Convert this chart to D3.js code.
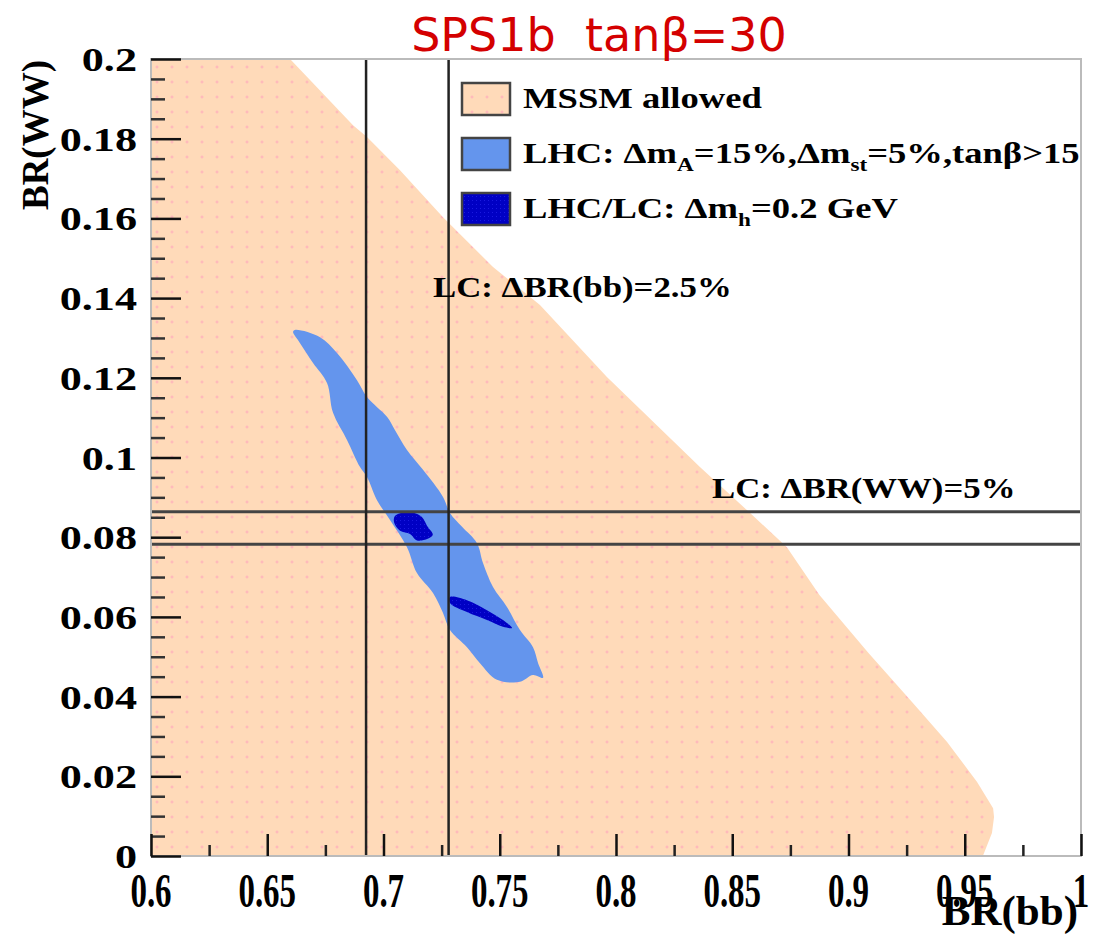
<!DOCTYPE html>
<html>
<head>
<meta charset="utf-8">
<script src="https://cdn.jsdelivr.net/npm/d3@7"></script>
<style>
  body { margin: 0; background: #fff; }
  text { font-family: "Liberation Serif", "DejaVu Serif", serif; font-weight: bold; }
</style>
</head>
<body>
<svg width="1104" height="936"></svg>
<script>
// axis ticks
var xMajor = [0.6, 0.65, 0.7, 0.75, 0.8, 0.85, 0.9, 0.95, 1.0];
var xMajorLabels = ["0.6", "0.65", "0.7", "0.75", "0.8", "0.85", "0.9", "0.95", "1"];
var xMinor = [0.625, 0.675, 0.725, 0.775, 0.825, 0.875, 0.925, 0.975];
var yMajor = [0, 0.02, 0.04, 0.06, 0.08, 0.1, 0.12, 0.14, 0.16, 0.18, 0.2];
var yMajorLabels = ["0", "0.02", "0.04", "0.06", "0.08", "0.1", "0.12", "0.14", "0.16", "0.18", "0.2"];
var yMinor = [0.005, 0.01, 0.015, 0.025, 0.03, 0.035, 0.045, 0.05, 0.055, 0.065, 0.07, 0.075,
              0.085, 0.09, 0.095, 0.105, 0.11, 0.115, 0.125, 0.13, 0.135, 0.145, 0.15, 0.155,
              0.165, 0.17, 0.175, 0.185, 0.19, 0.195];

// MSSM allowed region outline  [BR(bb), BR(WW)]
var mssmRegion = [
  [0.6, 0], [0.6, 0.2], [0.6598, 0.2], [0.6684, 0.1947], [0.6869, 0.1834], [0.6929, 0.1804],
  [0.7071, 0.1721], [0.7256, 0.1603], [0.7471, 0.1478], [0.7673, 0.1383], [0.7961, 0.1202],
  [0.8361, 0.0976], [0.8563, 0.0868], [0.8735, 0.0775], [0.8875, 0.0655], [0.9085, 0.0510],
  [0.9277, 0.0384], [0.9424, 0.0286], [0.9553, 0.0186], [0.9622, 0.012], [0.9626, 0.0098],
  [0.9617, 0.0058], [0.9578, 0]
];

// LHC region
var lhcRegion = [
  [0.6619, 0.132], [0.6727, 0.1302], [0.68, 0.1262], [0.6886, 0.1194], [0.6929, 0.1152],
  [0.7015, 0.1102], [0.7049, 0.1069], [0.7101, 0.1019], [0.717, 0.0969], [0.7256, 0.0901],
  [0.7286, 0.0861], [0.7338, 0.0826], [0.7402, 0.0785], [0.7428, 0.0735], [0.7471, 0.0675],
  [0.7531, 0.0625], [0.7587, 0.0567], [0.7643, 0.0524], [0.7665, 0.0484], [0.7686, 0.0447],
  [0.7643, 0.0454], [0.7587, 0.0437], [0.7488, 0.0442], [0.7415, 0.0484], [0.7359, 0.0524],
  [0.7286, 0.0567], [0.7256, 0.061], [0.7213, 0.066], [0.7144, 0.071], [0.7101, 0.0775],
  [0.7028, 0.0843], [0.6972, 0.0893], [0.6929, 0.0951], [0.6899, 0.0976], [0.6843, 0.1044],
  [0.6783, 0.1112], [0.6757, 0.1187], [0.6697, 0.1237], [0.6641, 0.1287], [0.6611, 0.1315]
];

// LHC/LC regions (two islands)
var lhcLcRegion1 = [
  [0.7049, 0.0853], [0.7101, 0.0863], [0.7160, 0.0853], [0.7190, 0.0826], [0.7212, 0.0806],
  [0.7190, 0.0796], [0.7144, 0.0792], [0.7114, 0.0808], [0.7071, 0.0816], [0.7046, 0.0836]
];
var lhcLcRegion2 = [
  [0.7286, 0.065], [0.7359, 0.0642], [0.7445, 0.0617], [0.7514, 0.0592], [0.7553, 0.0572],
  [0.7514, 0.0575], [0.7445, 0.0592], [0.7359, 0.0612], [0.7286, 0.0635]
];

// LC precision bands
var lcBB = [0.6925, 0.728];
var lcWW = [0.0782, 0.0864];

var pLeft = 151, pRight = 1081, pTop = 59, pBottom = 856;

var x = d3.scaleLinear().domain([0.6, 1.0]).range([pLeft, pRight]);
var y = d3.scaleLinear().domain([0, 0.2]).range([pBottom, pTop]);

var svg = d3.select("svg");
var defs = svg.append("defs");

var pat = defs.append("pattern")
    .attr("id", "peach")
    .attr("patternUnits", "userSpaceOnUse")
    .attr("width", 15).attr("height", 15);
pat.append("rect").attr("width", 15).attr("height", 15).attr("fill", "#ffdab9");
pat.append("path").attr("d", "M7,5.5v3M5.5,7h3").attr("stroke", "#ffb0bc").attr("stroke-width", 1);

var pat2 = defs.append("pattern")
    .attr("id", "darkblue")
    .attr("patternUnits", "userSpaceOnUse")
    .attr("width", 4).attr("height", 4);
pat2.append("rect").attr("width", 4).attr("height", 4).attr("fill", "#0000c4");
pat2.append("rect").attr("width", 1).attr("height", 1).attr("fill", "#1a1ae0");

defs.append("clipPath").attr("id", "plotclip")
  .append("rect").attr("x", pLeft).attr("y", pTop).attr("width", pRight - pLeft).attr("height", pBottom - pTop);

var line = d3.line().x(d => x(d[0])).y(d => y(d[1])).curve(d3.curveLinearClosed);
var smooth = d3.line().x(d => x(d[0])).y(d => y(d[1])).curve(d3.curveCatmullRomClosed.alpha(0.5));

var plot = svg.append("g").attr("clip-path", "url(#plotclip)");

plot.append("path").datum(mssmRegion).attr("d", line).attr("fill", "url(#peach)");
plot.append("path").datum(lhcRegion).attr("d", smooth).attr("fill", "#6495ed");
plot.append("path").datum(lhcLcRegion1).attr("d", smooth).attr("fill", "url(#darkblue)");
plot.append("path").datum(lhcLcRegion2).attr("d", smooth).attr("fill", "url(#darkblue)");

// LC lines
plot.selectAll(".hline").data(lcWW).join("line")
    .attr("x1", pLeft).attr("x2", pRight)
    .attr("y1", d => y(d)).attr("y2", d => y(d))
    .attr("stroke", "#444").attr("stroke-width", 3);
plot.selectAll(".vline").data(lcBB).join("line")
    .attr("x1", d => x(d)).attr("x2", d => x(d))
    .attr("y1", pTop).attr("y2", pBottom)
    .attr("stroke", "#222").attr("stroke-width", 2.5);

// frame
svg.append("rect")
    .attr("x", pLeft).attr("y", pTop).attr("width", pRight - pLeft).attr("height", pBottom - pTop)
    .attr("fill", "none").attr("stroke", "#bbb").attr("stroke-width", 2);

// ticks (drawn inward)
function ticks(axis, tr, color, width) {
  var g = svg.append("g").attr("transform", tr).call(axis);
  g.select(".domain").remove();
  g.selectAll("line").attr("stroke", color).attr("stroke-width", width);
  g.selectAll("text").remove();
}
ticks(d3.axisLeft(y).tickValues(yMajor).tickSize(-30), "translate(" + pLeft + ",0)", "#111", 2.5);
ticks(d3.axisLeft(y).tickValues(yMinor).tickSize(-14), "translate(" + pLeft + ",0)", "#333", 2.5);
ticks(d3.axisBottom(x).tickValues(xMajor).tickSize(-22), "translate(0," + pBottom + ")", "#111", 2.5);
ticks(d3.axisBottom(x).tickValues(xMinor).tickSize(-11), "translate(0," + pBottom + ")", "#222", 2.5);

// tick labels
svg.selectAll(".ylab").data(yMajor).join("text")
    .attr("transform", d => "translate(137," + (y(d) + 12) + ") scale(1.3,1)")
    .attr("text-anchor", "end")
    .attr("font-size", 34)
    .text((d, i) => yMajorLabels[i]);

svg.selectAll(".xlab").data(xMajor).join("text")
    .attr("transform", d => "translate(" + x(d) + ",907) scale(1,1.5)")
    .attr("text-anchor", "middle")
    .attr("font-size", 33)
    .text((d, i) => xMajorLabels[i]);

// axis titles
svg.append("text")
    .attr("transform", "translate(48,60) rotate(-90)")
    .attr("text-anchor", "end")
    .attr("font-size", 37)
    .text("BR(WW)");
svg.append("text")
    .attr("transform", "translate(1078,925)")
    .attr("text-anchor", "end")
    .attr("font-size", 43)
    .text("BR(bb)");

// title
svg.append("text")
    .attr("x", 599).attr("y", 51)
    .attr("text-anchor", "middle")
    .style("font-family", "'DejaVu Sans', sans-serif")
    .style("font-weight", "normal")
    .style("white-space", "pre")
    .attr("font-size", 46)
    .attr("fill", "#d40000")
    .text("SPS1b  tan\u03b2=30");

// legend
var legendFills = ["url(#peach)", "#6495ed", "url(#darkblue)"];
var legend = svg.append("g");
legend.selectAll("rect").data(legendFills).join("rect")
    .attr("x", 462).attr("y", (d, i) => 83 + i * 55)
    .attr("width", 48).attr("height", 32)
    .attr("fill", d => d).attr("stroke", "#444").attr("stroke-width", 2.5);

function legText(yb) {
  return legend.append("text")
    .attr("transform", "translate(523," + yb + ") scale(1.22,1)")
    .attr("font-size", 30);
}
legText(108).text("MSSM allowed");
var t2 = legText(163);
t2.append("tspan").text("LHC: \u0394m");
t2.append("tspan").attr("font-size", 19).attr("dy", 8).text("A");
t2.append("tspan").attr("dy", -8).text("=15%,\u0394m");
t2.append("tspan").attr("font-size", 19).attr("dy", 8).text("st");
t2.append("tspan").attr("dy", -8).text("=5%,tan\u03b2>15");
var t3 = legText(218);
t3.append("tspan").text("LHC/LC: \u0394m");
t3.append("tspan").attr("font-size", 19).attr("dy", 8).text("h");
t3.append("tspan").attr("dy", -8).text("=0.2 GeV");

// annotations
svg.append("text")
    .attr("transform", "translate(433,297) scale(1.2,1)")
    .attr("font-size", 29)
    .text("LC: \u0394BR(bb)=2.5%");
svg.append("text")
    .attr("transform", "translate(712,498) scale(1.2,1)")
    .attr("font-size", 29)
    .text("LC: \u0394BR(WW)=5%");
</script>
</body>
</html>
